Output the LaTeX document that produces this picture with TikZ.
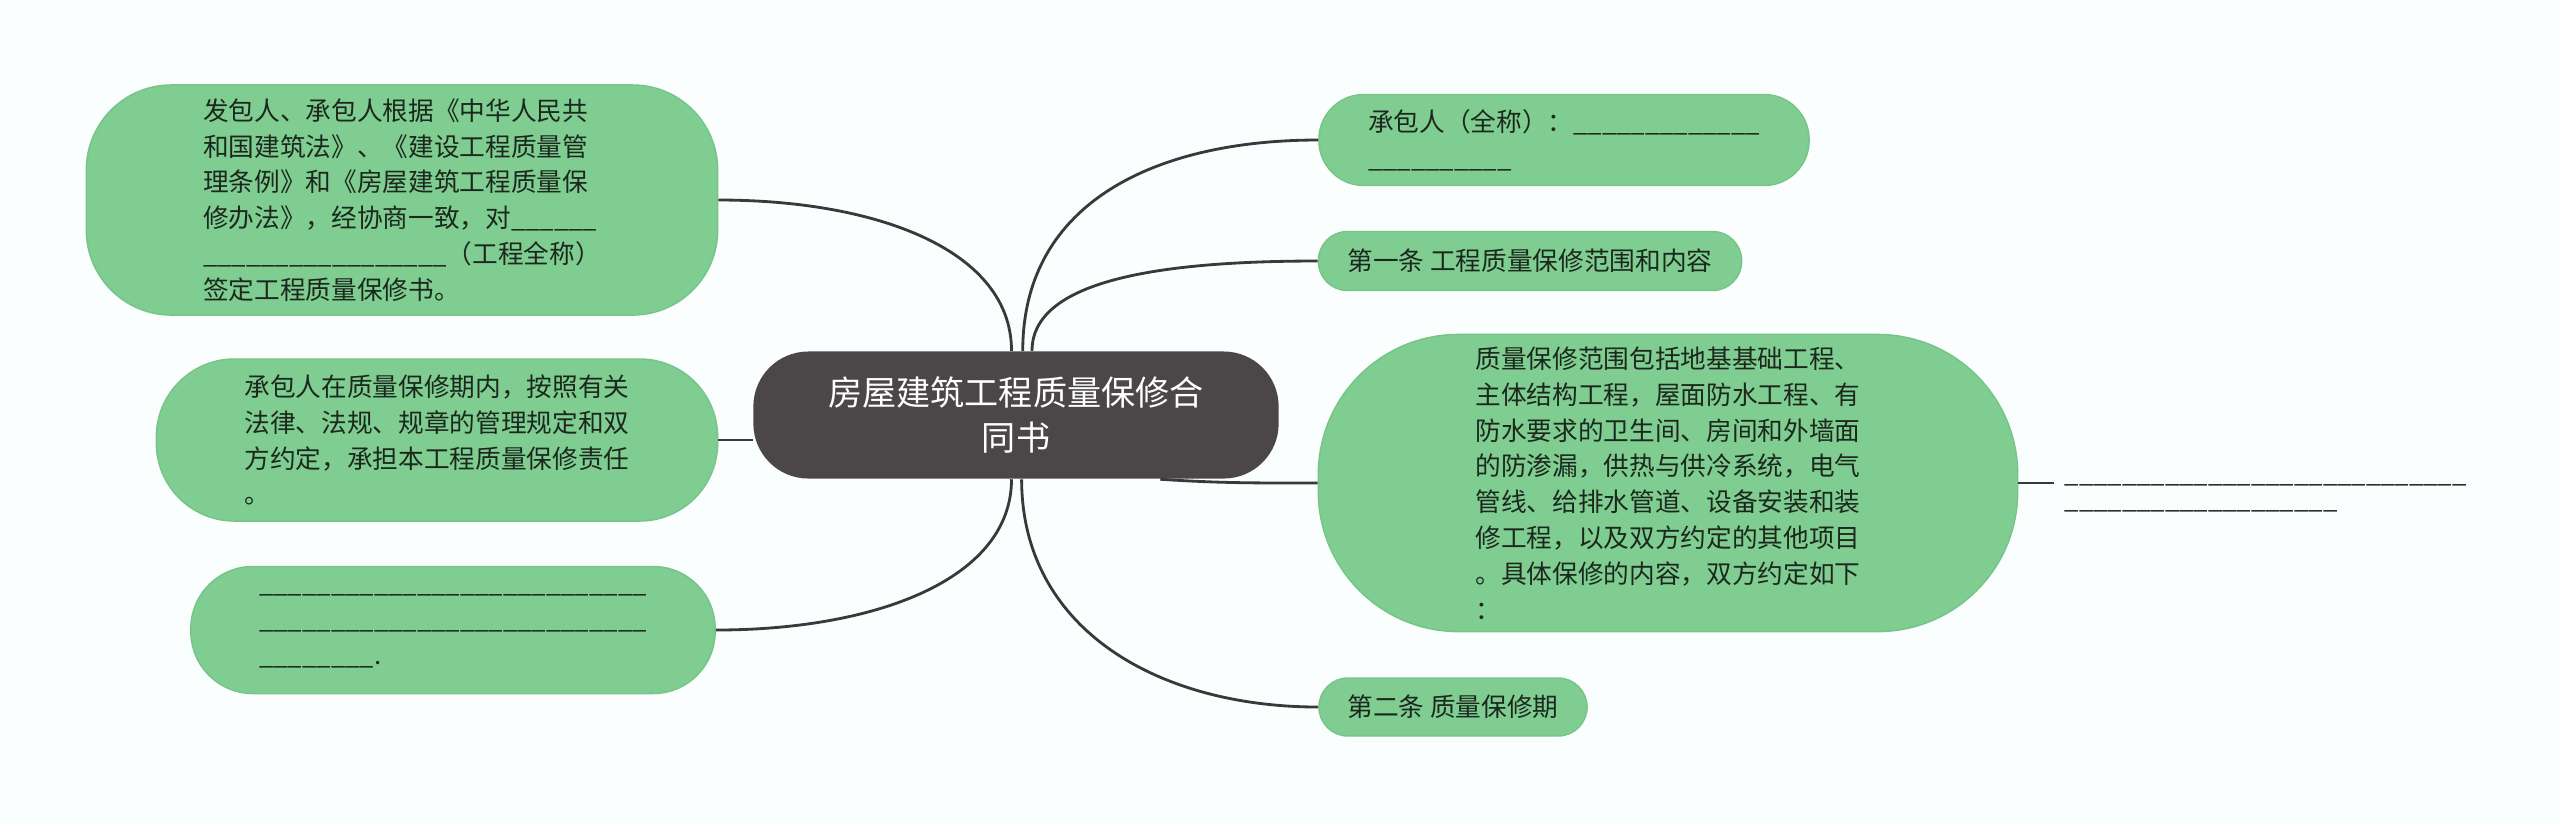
\documentclass[tikz,border=0pt]{standalone}
\usepackage{fontspec}
\setmainfont{Noto Sans CJK SC}
\usepackage{tikz}
\usetikzlibrary{positioning,calc}
\definecolor{paper}{RGB}{250,254,254}
\definecolor{leafgreen}{RGB}{127,205,145}
\definecolor{leafedge}{RGB}{118,196,136}
\definecolor{rootgrey}{RGB}{75,70,71}
\definecolor{linkgrey}{RGB}{58,56,56}
\definecolor{textdark}{RGB}{28,40,30}
\newcommand\blank[1]{\foreach\k in {1,...,#1}{\_}}

\begin{document}
\begin{tikzpicture}[x=0.01cm,y=-0.01cm,
  leaf/.style={draw=leafedge, line width=0.4pt, fill=leafgreen, text=textdark,
    font=\fontsize{7.3}{10.2}\selectfont, align=left, inner sep=0pt},
  root/.style={fill=rootgrey, text=white, font=\fontsize{9.7}{12.8}\selectfont,
    align=center, inner sep=0pt, rounded corners=0.55cm,
    minimum width=5.25cm, minimum height=1.27cm},
  link/.style={draw=linkgrey, line width=0.8pt}]
  \fill[paper] (0,0) rectangle (2560,823);
  \useasboundingbox (0,0) rectangle (2560,823);

  % centre
  \node[root] (root) at (1016,415) {房屋建筑工程质量保修合\\同书};

  % Left branches
  \node[leaf, rounded corners=0.85cm, minimum width=6.31cm, minimum height=2.30cm] (preamble) at (402,200)
    {发包人、承包人根据《中华人民共\\和国建筑法》、《建设工程质量管\\理条例》和《房屋建筑工程质量保\\修办法》，经协商一致，对\blank{6}\\\blank{17}（工程全称）\\签定工程质量保修书。};
  \node[leaf, rounded corners=0.78cm, minimum width=5.61cm, minimum height=1.62cm] (duty) at (437,440)
    {承包人在质量保修期内，按照有关\\法律、法规、规章的管理规定和双\\方约定，承担本工程质量保修责任\\。};
  \node[leaf, rounded corners=0.62cm, minimum width=5.24cm, minimum height=1.27cm] (blanks) at (453,630)
    {\blank{27}\\\blank{27}\\\blank{8}.};

  % Right branches
  \node[leaf, rounded corners=0.45cm, minimum width=4.90cm, minimum height=0.91cm] (contractor) at (1564,140)
    {承包人（全称）：\blank{13}\\\blank{10}};
  \node[leaf, rounded corners=0.29cm, minimum width=4.23cm, minimum height=0.59cm] (clauseone) at (1530,261)
    {第一条 工程质量保修范围和内容};
  \node[leaf, rounded corners=1.40cm, minimum width=6.99cm, minimum height=2.97cm] (range) at (1668,483)
    {质量保修范围包括地基基础工程、\\主体结构工程，屋面防水工程、有\\防水要求的卫生间、房间和外墙面\\的防渗漏，供热与供冷系统，电气\\管线、给排水管道、设备安装和装\\修工程，以及双方约定的其他项目\\。具体保修的内容，双方约定如下\\：};
  \node[leaf, rounded corners=0.29cm, minimum width=2.68cm, minimum height=0.58cm] (clausetwo) at (1453,707)
    {第二条 质量保修期};
  \node[font=\fontsize{7.3}{7.4}\selectfont, text=textdark, align=left, inner sep=0pt, anchor=west] (rangetail) at (2064,497)
    {\blank{28}\\\blank{19}};
  \coordinate (tailstub) at ($(rangetail.west)+(-10,0)$);

  % connectors
  \draw[link] (root.94) .. controls +(0,-100) and +(160,0) .. (preamble.east);
  \draw[link] (duty.east) -- (duty.east -| root.west);
  \draw[link] (root.266) .. controls +(0,100) and +(160,0) .. (blanks.east);
  \foreach \leaf/\ang/\rise in {contractor/84/-150, clauseone/76/-70, clausetwo/275/150} {
    \draw[link] (root.\ang) .. controls +(0,\rise) and +(-160,0) .. (\leaf.west);
  }
  \draw[link] (root.336) .. controls +(60,4) and +(-60,0) .. (range.west);
  \draw[link] (range.east) -- (range.east -| tailstub);
\end{tikzpicture}
\end{document}
